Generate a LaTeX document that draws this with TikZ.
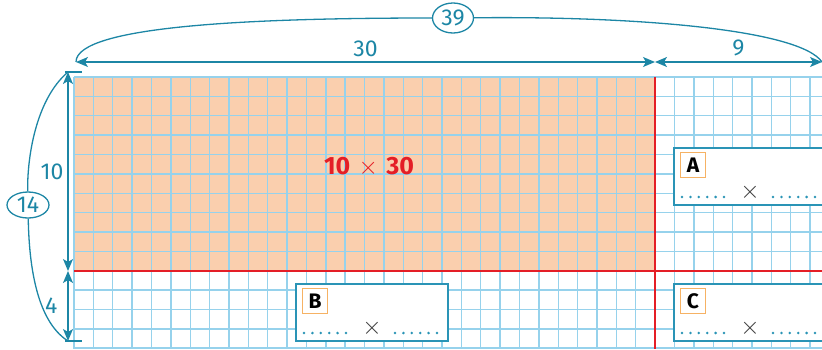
\documentclass[tikz,border=0pt]{standalone}
\usepackage{fontspec}
\setmainfont{Fira Sans}
\usetikzlibrary{positioning, arrows.meta, calc, shapes.geometric}

\definecolor{gridblue}{RGB}{150,210,236}
\definecolor{peach}{RGB}{250,207,174}
\definecolor{markred}{RGB}{228,30,38}
\definecolor{dimteal}{RGB}{28,134,165}
\definecolor{boxteal}{RGB}{42,148,182}
\definecolor{tagorange}{RGB}{246,178,100}
\definecolor{crossgrey}{RGB}{60,60,60}

\begin{document}
\begin{tikzpicture}[
  x=1pt, y=-1pt,
  font=\fontsize{23}{26}\selectfont,
  gridline/.style={gridblue, line width=1.4pt},
  redline/.style={markred, line width=2.4pt},
  dimline/.style={dimteal, line width=1.3pt},
  dimarrow/.style={dimline, {Stealth[length=12pt, width=10pt, inset=3pt]}-{Stealth[length=12pt, width=10pt, inset=3pt]}},
  dimlabel/.style={text=dimteal, inner sep=2pt},
  total/.style={ellipse, draw=dimteal, line width=1.3pt, fill=white, text=dimteal, inner sep=0pt},
  answerbox/.style={draw=boxteal, line width=2.2pt, fill=white, anchor=north west, minimum width=152pt, minimum height=57pt, inner sep=0pt},
  tag/.style={draw=tagorange, line width=1pt, fill=white, anchor=north west, minimum size=25pt, inner sep=0pt, font=\bfseries\fontsize{21}{21}\selectfont},
  timesign/.style={text=crossgrey, inner sep=0pt, font=\fontsize{25}{25}\selectfont},
  dotfill/.style={fill=boxteal}
]
\clip (0,0) rectangle (822,349);
\def\cell{19.37}
\fill[peach] (74,77) rectangle (655,271);
\foreach \i in {0,...,39} \draw[gridline] (74+\i*\cell,77) -- (74+\i*\cell,349);
\foreach \j in {0,...,14} \draw[gridline] (74,77+\j*\cell) -- (822,77+\j*\cell);
\draw[redline] (655,77) -- (655,349);
\draw[redline] (74,271) -- (822,271);

\node[font=\bfseries\fontsize{25}{27}\selectfont, text=markred] (product) at (369,167) {10\,\,$\times$\,\,30};

\foreach \ltr/\px/\py in {A/673/147, B/295/283, C/673/283} {
  \node[answerbox] (box\ltr) at (\px,\py) {};
  \node[tag] (tag\ltr) at ($(box\ltr.north west)+(7,5)$) {\ltr};
  \node[timesign] (times\ltr) at ($(box\ltr.north west)+(77,45)$) {$\times$};
  \foreach \k in {0,...,5} {
    \fill[dotfill] ($(box\ltr.north west)+(9+8.4*\k,50)$) circle (1.4pt);
    \fill[dotfill] ($(box\ltr.north west)+(100+8.4*\k,50)$) circle (1.4pt);
  }
}

\coordinate (h0) at (76,62);
\coordinate (h1) at (655,62);
\coordinate (h2) at (822,62);
\coordinate (v0) at (68,72);
\coordinate (v1) at (68,271);
\coordinate (v2) at (68,341);
\draw[dimarrow] (h0) -- node[dimlabel, above=3pt] (len30) {30} (h1);
\draw[dimarrow] (h1) -- node[dimlabel, above=3pt] (len9) {9} (h2);
\draw[dimarrow] (v0) -- node[dimlabel, left=2pt] (len10) {10} (v1);
\draw[dimarrow] (v1) -- node[dimlabel, left=8pt] (len4) {4} (v2);
\draw[dimline] (v0) ++(-3,0) -- ++(17,0);
\draw[dimline] (v2) ++(-3,0) -- ++(17,0);

\node[total, minimum width=41pt, minimum height=30pt] (sum39) at (453,18) {39};
\node[total, minimum width=42pt, minimum height=26pt] (sum14) at (28,205) {14};
\draw[dimline] (h0) .. controls (76,25) and (260,18) .. (sum39);
\draw[dimline] (sum39) .. controls (640,16) and (800,30) .. (h2);
\draw[dimline] (v0) .. controls (35,100) and (27,160) .. (sum14);
\draw[dimline] (sum14) .. controls (29,260) and (35,320) .. (v2);
\end{tikzpicture}
\end{document}
